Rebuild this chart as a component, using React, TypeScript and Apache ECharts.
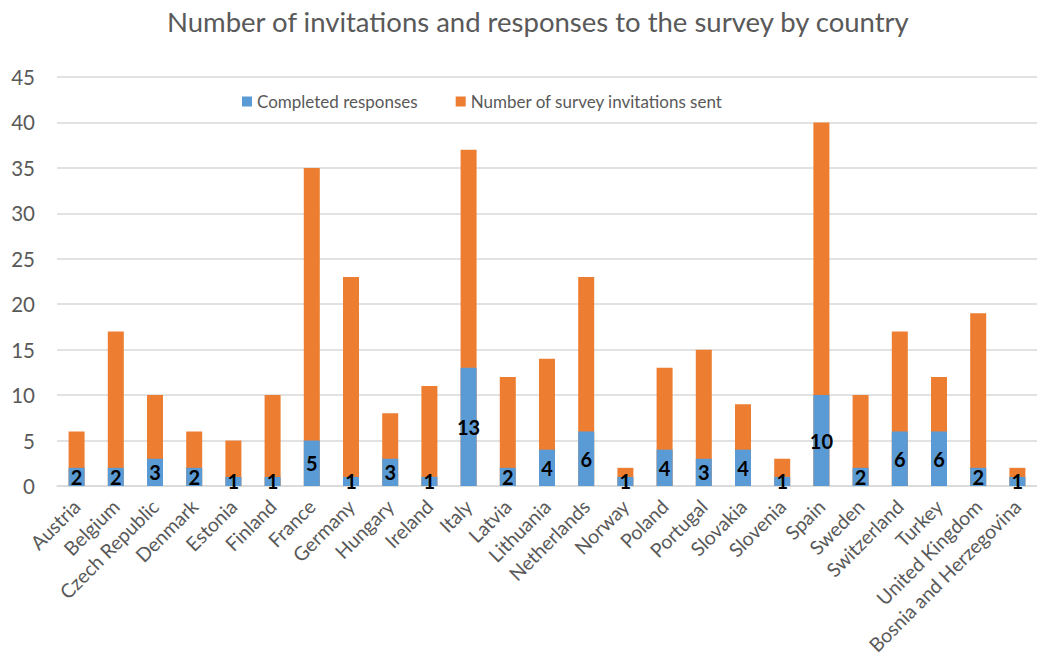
import React, { useEffect, useRef } from "react";
import * as echarts from "echarts";

const countries = [
  "Austria", "Belgium", "Czech Republic", "Denmark", "Estonia", "Finland", "France",
  "Germany", "Hungary", "Ireland", "Italy", "Latvia", "Lithuania", "Netherlands",
  "Norway", "Poland", "Portugal", "Slovakia", "Slovenia", "Spain", "Sweden",
  "Switzerland", "Turkey", "United Kingdom", "Bosnia and Herzegovina",
];
const completedResponses = [2, 2, 3, 2, 1, 1, 5, 1, 3, 1, 13, 2, 4, 6, 1, 4, 3, 4, 1, 10, 2, 6, 6, 2, 1];
const invitationsSent = [6, 17, 10, 6, 5, 10, 35, 23, 8, 11, 37, 12, 14, 23, 2, 13, 15, 9, 3, 40, 10, 17, 12, 19, 2];

const FONT = "Lato, 'Liberation Sans', sans-serif";
const GRAY = "#595959";

export default function App() {
  const ref = useRef<HTMLDivElement>(null);
  useEffect(() => {
    if (!ref.current) return;
    const chart = echarts.init(ref.current, null, { renderer: "svg" });
    chart.setOption({
      animation: false,
      textStyle: { fontFamily: FONT },
      title: {
        text: "Number of invitations and responses to the survey by country",
        left: 162,
        top: 2,
        textStyle: { fontFamily: FONT, fontSize: 27.5, fontWeight: "normal", color: GRAY },
      },
      legend: {
        top: 88,
        left: 237,
        itemWidth: 10,
        itemHeight: 10,
        itemGap: 38,
        icon: "rect",
        data: ["Completed responses", "Number of survey invitations sent"],
        textStyle: { fontFamily: FONT, fontSize: 17, color: GRAY },
      },
      grid: { left: 57, right: -6, top: 77, bottom: 184, containLabel: false },
      xAxis: {
        type: "category",
        data: countries,
        axisTick: { show: false },
        axisLine: { lineStyle: { color: "#d9d9d9", width: 1.5 } },
        axisLabel: {
          rotate: 45,
          interval: 0,
          margin: 17,
          fontFamily: FONT,
          fontSize: 19.5,
          color: GRAY,
        },
      },
      yAxis: {
        type: "value",
        min: 0,
        max: 45,
        interval: 5,
        axisLine: { show: false },
        axisTick: { show: false },
        axisLabel: { fontFamily: FONT, fontSize: 20.5, color: GRAY, margin: 22 },
        splitLine: { lineStyle: { color: "#d9d9d9", width: 1.5 } },
      },
      series: [
        {
          name: "Number of survey invitations sent",
          type: "bar",
          data: invitationsSent,
          barWidth: 16,
          barGap: "-100%",
          z: 2,
          itemStyle: { color: "#ED7D31" },
        },
        {
          name: "Completed responses",
          type: "bar",
          data: completedResponses,
          barWidth: 16,
          barGap: "-100%",
          z: 3,
          itemStyle: { color: "#5B9BD5" },
          label: {
            show: true,
            position: "inside",
            color: "#000",
            fontFamily: FONT,
            fontWeight: "bold",
            fontSize: 20,
          },
        },
      ],
    });
    return () => chart.dispose();
  }, []);
  return (
    <div
      ref={ref}
      style={{ position: "fixed", left: 0, top: 0, width: 1037, height: 670, background: "#fff" }}
    />
  );
}
